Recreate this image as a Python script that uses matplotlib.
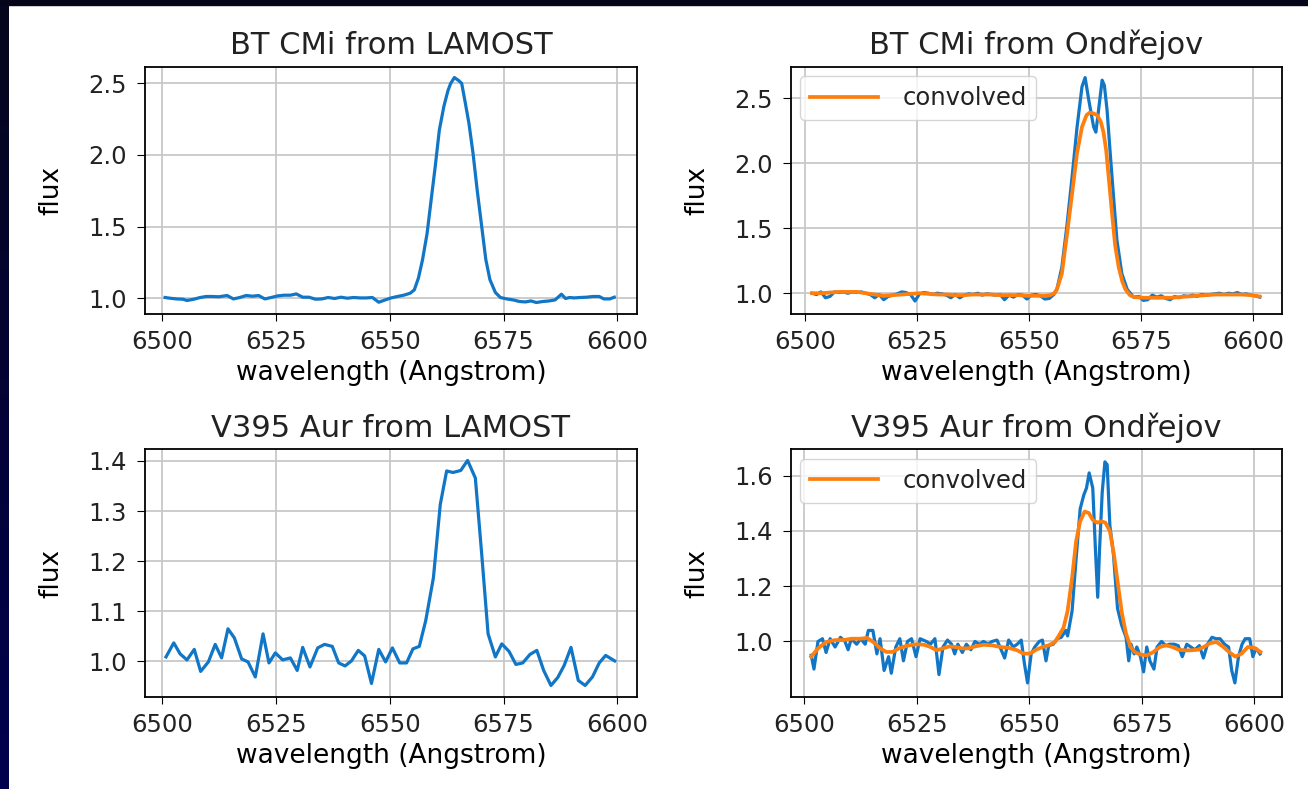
import matplotlib
matplotlib.use("Agg")
import matplotlib.pyplot as plt
import numpy as np
from matplotlib.colors import LinearSegmentedColormap
from matplotlib.patches import Rectangle

# --- BT CMi, LAMOST spectrum ---
bt_lamost_wl = [6500.7, 6501.8, 6503.2, 6504.6, 6505.5, 6507.0, 6508.4, 6509.7,
                6511.1, 6512.5, 6514.3, 6515.7, 6517.1, 6518.5, 6519.9, 6521.2,
                6522.6, 6524.0, 6525.4, 6526.8, 6528.2, 6529.5, 6530.9, 6532.3,
                6533.7, 6535.1, 6536.5, 6537.9, 6539.3, 6540.7, 6542.1, 6543.5,
                6544.9, 6546.2, 6547.6, 6549.0, 6550.3, 6551.7, 6553.1, 6554.5,
                6555.4, 6556.3, 6557.2, 6558.2, 6559.1, 6560.0, 6560.9, 6561.9,
                6562.8, 6563.4, 6564.2, 6565.1, 6565.8, 6566.5, 6567.4, 6568.3,
                6569.2, 6570.2, 6571.1, 6572.0, 6573.2, 6574.3, 6575.7, 6577.1,
                6578.5, 6579.8, 6581.0, 6582.2, 6583.6, 6585.0, 6586.3, 6587.7,
                6588.6, 6589.5, 6590.5, 6591.8, 6593.2, 6594.6, 6596.0, 6597.0,
                6598.3, 6599.3]
bt_lamost_flux = [1.005, 1.000, 0.995, 0.993, 0.984, 0.993, 1.005, 1.012,
                  1.012, 1.010, 1.019, 0.995, 1.005, 1.019, 1.014, 1.019,
                  0.995, 1.005, 1.016, 1.021, 1.021, 1.030, 1.007, 1.007,
                  0.993, 0.995, 1.005, 0.998, 1.007, 1.000, 1.005, 1.002,
                  1.002, 1.005, 0.972, 0.988, 1.002, 1.012, 1.021, 1.035,
                  1.058, 1.140, 1.267, 1.450, 1.686, 1.920, 2.174, 2.340,
                  2.450, 2.500, 2.540, 2.520, 2.500, 2.380, 2.220, 2.010,
                  1.756, 1.500, 1.270, 1.130, 1.040, 1.005, 0.995, 0.988,
                  0.977, 0.974, 0.981, 0.970, 0.977, 0.981, 0.988, 1.028,
                  0.998, 1.005, 1.002, 1.005, 1.007, 1.012, 1.012, 0.995,
                  0.995, 1.007]

# --- V395 Aur, LAMOST spectrum ---
v395_lamost_wl = [6500.9, 6502.6, 6504.0, 6505.5, 6507.1, 6508.5, 6510.2, 6511.7,
                  6513.1, 6514.5, 6515.9, 6517.5, 6518.9, 6520.5, 6522.2, 6523.5,
                  6524.9, 6526.5, 6528.2, 6529.7, 6530.9, 6532.5, 6534.2, 6535.7,
                  6537.4, 6538.8, 6540.2, 6541.6, 6543.1, 6544.5, 6546.0, 6547.6,
                  6549.1, 6550.6, 6552.2, 6553.7, 6555.1, 6556.5, 6557.9, 6559.6,
                  6561.1, 6562.5, 6563.9, 6565.6, 6567.1, 6568.8, 6570.2, 6571.6,
                  6573.2, 6574.6, 6576.2, 6577.7, 6579.2, 6580.8, 6582.3, 6583.8,
                  6585.4, 6586.9, 6588.3, 6589.8, 6591.4, 6592.9, 6594.5, 6596.0,
                  6597.4, 6599.4]
v395_lamost_flux = [1.009, 1.037, 1.015, 1.003, 1.024, 0.980, 0.999, 1.034,
                    1.007, 1.065, 1.047, 1.005, 0.999, 0.969, 1.055, 0.997,
                    1.017, 1.003, 1.007, 0.982, 1.028, 0.989, 1.027, 1.034,
                    1.030, 0.997, 0.991, 1.001, 1.022, 1.011, 0.956, 1.024,
                    0.999, 1.027, 0.997, 0.997, 1.025, 1.030, 1.081, 1.167,
                    1.313, 1.380, 1.377, 1.381, 1.401, 1.366, 1.214, 1.055,
                    1.009, 1.035, 1.020, 0.994, 0.997, 1.014, 1.022, 0.982,
                    0.952, 0.968, 0.992, 1.028, 0.962, 0.952, 0.969, 0.997,
                    1.012, 1.001]

# --- BT CMi, Ondrejov spectrum and its convolved version ---
bt_ond_wl = [6501.5, 6502.5, 6503.5, 6504.5, 6505.5, 6506.5, 6507.5, 6508.5,
             6509.5, 6510.5, 6511.5, 6512.5, 6513.5, 6514.5, 6515.5, 6516.5,
             6517.5, 6518.5, 6519.5, 6520.5, 6521.5, 6522.5, 6523.5, 6524.5,
             6525.5, 6526.5, 6527.5, 6528.5, 6529.5, 6530.5, 6531.5, 6532.5,
             6533.5, 6534.5, 6535.5, 6536.5, 6537.5, 6538.5, 6539.5, 6540.5,
             6541.5, 6542.5, 6543.5, 6544.5, 6545.5, 6546.5, 6547.5, 6548.5,
             6549.5, 6550.5, 6551.5, 6552.5, 6553.5, 6554.5, 6555.5, 6556.2,
             6557.3, 6558.4, 6559.6, 6560.7, 6561.8, 6562.5, 6563.3, 6564.4,
             6564.9, 6565.5, 6566.3, 6566.8, 6567.4, 6568.1, 6568.9, 6569.6,
             6570.7, 6571.9, 6573.3, 6574.5, 6575.5, 6576.5, 6577.5, 6578.5,
             6579.5, 6580.5, 6581.5, 6582.5, 6583.5, 6584.5, 6585.5, 6586.5,
             6587.5, 6588.5, 6589.5, 6590.5, 6591.5, 6592.5, 6593.5, 6594.5,
             6595.5, 6596.5, 6597.5, 6598.5, 6599.5, 6600.5, 6601.5]
bt_ond_flux = [1.000, 0.990, 1.010, 0.965, 0.975, 1.010, 1.005, 1.010,
               1.000, 1.010, 1.005, 1.010, 1.000, 0.990, 0.965, 0.990,
               0.950, 0.975, 0.985, 0.995, 1.010, 1.005, 0.990, 0.940,
               0.995, 1.005, 1.000, 0.990, 1.000, 0.995, 0.985, 0.965,
               0.990, 0.965, 0.985, 0.995, 0.990, 1.000, 0.985, 0.995,
               0.990, 0.985, 0.990, 0.950, 0.985, 0.970, 0.990, 0.985,
               0.955, 0.985, 0.990, 0.980, 0.955, 0.960, 0.990, 1.030,
               1.200, 1.510, 1.900, 2.280, 2.590, 2.660, 2.490, 2.280,
               2.240, 2.410, 2.640, 2.600, 2.410, 2.080, 1.720, 1.410,
               1.150, 1.030, 0.970, 0.975, 0.945, 0.950, 0.985, 0.970,
               0.980, 0.960, 0.950, 0.975, 0.965, 0.980, 0.975, 0.985,
               0.975, 0.990, 0.985, 0.990, 0.995, 1.000, 0.990, 1.000,
               0.995, 1.005, 0.990, 0.995, 0.985, 0.980, 0.970]

bt_conv_wl = [6501.5, 6503.5, 6505.5, 6507.5, 6509.5, 6511.5, 6513.5, 6515.5,
              6517.5, 6519.5, 6521.5, 6523.5, 6525.5, 6527.5, 6529.5, 6531.5,
              6533.5, 6535.5, 6537.5, 6539.5, 6541.5, 6543.5, 6545.5, 6547.5,
              6549.5, 6551.5, 6553.5, 6554.7, 6555.6, 6556.2, 6557.3, 6558.4,
              6559.6, 6560.7, 6561.8, 6562.8, 6563.5, 6564.3, 6565.2, 6566.0,
              6566.6, 6567.2, 6567.8, 6568.5, 6569.2, 6570.0, 6570.8, 6571.5,
              6572.5, 6573.5, 6575.5, 6577.5, 6579.5, 6581.5, 6583.5, 6585.5,
              6587.5, 6589.5, 6591.5, 6593.5, 6595.5, 6597.5, 6599.5, 6601.5]
bt_conv_flux = [1.000, 1.000, 1.005, 1.010, 1.010, 1.010, 1.000, 0.990,
                0.980, 0.985, 0.990, 0.995, 1.000, 0.995, 0.990, 0.990,
                0.985, 0.985, 0.990, 0.990, 0.990, 0.985, 0.985, 0.985,
                0.980, 0.980, 0.980, 0.985, 1.000, 1.030, 1.150, 1.440,
                1.770, 2.080, 2.280, 2.370, 2.390, 2.385, 2.370, 2.320,
                2.240, 2.100, 1.880, 1.620, 1.370, 1.200, 1.090, 1.030,
                0.985, 0.970, 0.965, 0.965, 0.965, 0.965, 0.970, 0.975,
                0.980, 0.985, 0.990, 0.990, 0.990, 0.990, 0.985, 0.975]

# --- V395 Aur, Ondrejov spectrum and its convolved version ---
v395_ond_wl = [6501.5, 6502.1, 6503.0, 6504.0, 6504.8, 6505.7, 6506.8, 6508.0,
               6509.0, 6509.7, 6510.4, 6511.6, 6512.5, 6513.5, 6514.2, 6515.2,
               6516.1, 6516.8, 6517.7, 6518.7, 6519.3, 6520.3, 6521.2, 6522.0,
               6522.9, 6523.8, 6524.8, 6525.7, 6527.1, 6528.0, 6529.0, 6529.9,
               6530.8, 6531.8, 6532.7, 6533.4, 6534.1, 6535.1, 6536.0, 6537.0,
               6537.9, 6538.9, 6539.8, 6540.8, 6541.7, 6542.8, 6543.6, 6544.5,
               6545.4, 6546.4, 6547.3, 6548.2, 6548.9, 6549.6, 6550.4, 6551.2,
               6552.2, 6552.9, 6553.7, 6554.3, 6555.3, 6556.2, 6557.1, 6558.1,
               6558.5, 6559.5, 6560.4, 6561.3, 6562.1, 6562.7, 6563.3, 6564.1,
               6564.7, 6565.2, 6565.6, 6566.2, 6566.8, 6567.3, 6567.9, 6568.7,
               6569.6, 6570.5, 6571.5, 6572.1, 6572.6, 6573.3, 6573.9, 6574.7,
               6575.4, 6576.1, 6576.8, 6577.7, 6578.4, 6579.4, 6580.3, 6581.2,
               6582.2, 6583.1, 6584.0, 6585.0, 6585.9, 6586.8, 6587.8, 6588.7,
               6589.6, 6590.6, 6591.5, 6592.4, 6593.4, 6594.3, 6595.0, 6595.7,
               6596.5, 6597.3, 6598.0, 6599.0, 6599.7, 6600.4, 6601.3]
v395_ond_flux = [0.950, 0.900, 1.000, 1.010, 0.960, 1.010, 0.980, 1.015,
                 1.000, 0.970, 1.010, 0.990, 1.010, 0.990, 1.040, 1.040,
                 0.955, 1.010, 0.895, 0.945, 0.885, 0.980, 1.010, 0.930,
                 1.000, 1.010, 0.945, 1.010, 1.000, 0.990, 1.010, 0.880,
                 0.980, 1.005, 0.990, 0.955, 0.990, 0.960, 0.990, 0.970,
                 1.000, 0.990, 1.000, 0.990, 1.000, 1.005, 0.975, 0.940,
                 1.005, 0.980, 0.990, 1.005, 0.920, 0.850, 0.955, 0.980,
                 1.000, 1.005, 0.930, 0.985, 0.990, 1.010, 1.015, 1.040,
                 1.020, 1.110, 1.300, 1.480, 1.530, 1.555, 1.610, 1.555,
                 1.330, 1.160, 1.330, 1.540, 1.650, 1.640, 1.420, 1.315,
                 1.120, 1.060, 1.015, 0.930, 0.990, 0.955, 0.980, 0.945,
                 0.890, 0.980, 0.930, 0.900, 0.980, 1.000, 0.985, 0.990,
                 0.990, 0.985, 0.945, 0.990, 0.980, 0.970, 0.985, 0.940,
                 0.990, 1.015, 1.010, 1.010, 0.990, 0.980, 0.895, 0.850,
                 0.945, 0.990, 1.010, 1.010, 0.945, 0.975, 0.955]

v395_conv_wl = [6501.5, 6503.0, 6504.8, 6506.8, 6508.6, 6510.5, 6512.5, 6513.9,
                6515.3, 6516.8, 6518.2, 6519.6, 6521.0, 6522.9, 6524.8, 6526.6,
                6528.0, 6529.4, 6530.8, 6532.2, 6533.6, 6535.0, 6536.4, 6537.9,
                6539.8, 6541.7, 6543.6, 6545.4, 6547.3, 6548.7, 6550.1, 6551.5,
                6552.9, 6554.3, 6555.7, 6556.6, 6557.6, 6558.5, 6559.5, 6560.4,
                6561.3, 6562.3, 6563.2, 6564.1, 6565.1, 6566.0, 6566.9, 6567.9,
                6568.8, 6569.7, 6570.6, 6571.5, 6572.5, 6573.4, 6574.8, 6576.2,
                6577.6, 6579.0, 6580.4, 6581.8, 6583.2, 6584.6, 6586.0, 6587.4,
                6588.8, 6590.2, 6591.6, 6593.0, 6594.4, 6595.8, 6597.2, 6598.6,
                6600.0, 6601.4]
v395_conv_flux = [0.945, 0.975, 0.998, 1.005, 1.005, 1.010, 1.010, 1.013,
                  0.998, 0.975, 0.962, 0.962, 0.975, 0.985, 0.990, 0.988,
                  0.980, 0.968, 0.975, 0.982, 0.980, 0.975, 0.975, 0.982,
                  0.988, 0.986, 0.980, 0.977, 0.968, 0.956, 0.956, 0.970,
                  0.980, 0.986, 0.998, 1.022, 1.050, 1.110, 1.230, 1.363,
                  1.435, 1.470, 1.465, 1.440, 1.430, 1.435, 1.430, 1.400,
                  1.315, 1.207, 1.100, 1.028, 0.980, 0.962, 0.952, 0.950,
                  0.962, 0.980, 0.986, 0.980, 0.970, 0.968, 0.968, 0.970,
                  0.980, 0.994, 0.998, 0.982, 0.962, 0.945, 0.956, 0.980,
                  0.977, 0.962]

wl_ticks = [6500, 6525, 6550, 6575, 6600]
blue = "#1176c6"
orange = "#ff7f0e"

plt.rcParams["font.family"] = "DejaVu Sans"
plt.rcParams["font.size"] = 17.5
plt.rcParams["axes.titlesize"] = 22
plt.rcParams["axes.labelsize"] = 19
plt.rcParams["xtick.major.size"] = 5
plt.rcParams["ytick.major.size"] = 6
plt.rcParams["xtick.major.pad"] = 6.5
plt.rcParams["ytick.major.pad"] = 7
plt.rcParams["text.color"] = "#222222"
plt.rcParams["xtick.labelcolor"] = "#222222"
plt.rcParams["ytick.labelcolor"] = "#222222"

fig = plt.figure(figsize=(13.08, 7.89), dpi=100, facecolor="white")

# dark slide frame on the top and left edges
strip = fig.add_axes([0, 0, 9 / 1308, 1])
strip.axis("off")
frame_cmap = LinearSegmentedColormap.from_list("frame", ["#06061c", "#00004e"])
strip.imshow(np.linspace(0, 1, 100).reshape(-1, 1), aspect="auto",
             cmap=frame_cmap, extent=[0, 1, 0, 1])
fig.patches.append(Rectangle((0, 1 - 5 / 789), 1, 5 / 789,
                             transform=fig.transFigure, color="#05051a"))

left_x, right_x = 0.1109, 0.6044
top_y, bot_y = 0.6017, 0.1166
w, h = 0.3758, 0.3138

panels = [
    ([left_x, top_y, w, h], "BT CMi from LAMOST", (0.888, 2.616), (6496.3, 6604.2)),
    ([right_x, top_y, w, h], "BT CMi from Ondřejov", (0.838, 2.744), (6496.7, 6606.5)),
    ([left_x, bot_y, w, h], "V395 Aur from LAMOST", (0.929, 1.423), (6496.3, 6604.2)),
    ([right_x, bot_y, w, h], "V395 Aur from Ondřejov", (0.799, 1.695), (6496.9, 6606.2)),
]
axes = []
for rect, title, ylim, xlim in panels:
    ax = fig.add_axes(rect)
    ax.set_title(title, pad=9)
    ax.set_xlabel("wavelength (Angstrom)", labelpad=4)
    ax.set_ylabel("flux", labelpad=17)
    ax.set_xlim(*xlim)
    ax.set_ylim(*ylim)
    ax.set_xticks(wl_ticks)
    ax.grid(True, color="#c8c8c8", linewidth=1.3)
    ax.set_axisbelow(True)
    for sp in ax.spines.values():
        sp.set_linewidth(1.3)
    axes.append(ax)

ax1, ax2, ax3, ax4 = axes

ax1.plot(bt_lamost_wl, bt_lamost_flux, color=blue, lw=2.3)
ax1.set_yticks([1.0, 1.5, 2.0, 2.5])

ax2.plot(bt_ond_wl, bt_ond_flux, color=blue, lw=2.3)
ax2.plot(bt_conv_wl, bt_conv_flux, color=orange, lw=2.7, label="convolved")
ax2.set_yticks([1.0, 1.5, 2.0, 2.5])
ax2.legend(loc="upper left", fontsize=17.5, framealpha=0.8, handlelength=2.8,
           handletextpad=1.0, borderaxespad=0.4)

ax3.plot(v395_lamost_wl, v395_lamost_flux, color=blue, lw=2.3)
ax3.set_yticks([1.0, 1.1, 1.2, 1.3, 1.4])

ax4.plot(v395_ond_wl, v395_ond_flux, color=blue, lw=2.3)
ax4.plot(v395_conv_wl, v395_conv_flux, color=orange, lw=2.7, label="convolved")
ax4.set_yticks([1.0, 1.2, 1.4, 1.6])
ax4.legend(loc="upper left", fontsize=17.5, framealpha=0.8, handlelength=2.8,
           handletextpad=1.0, borderaxespad=0.4)

fig.savefig("out.png", dpi=100)
